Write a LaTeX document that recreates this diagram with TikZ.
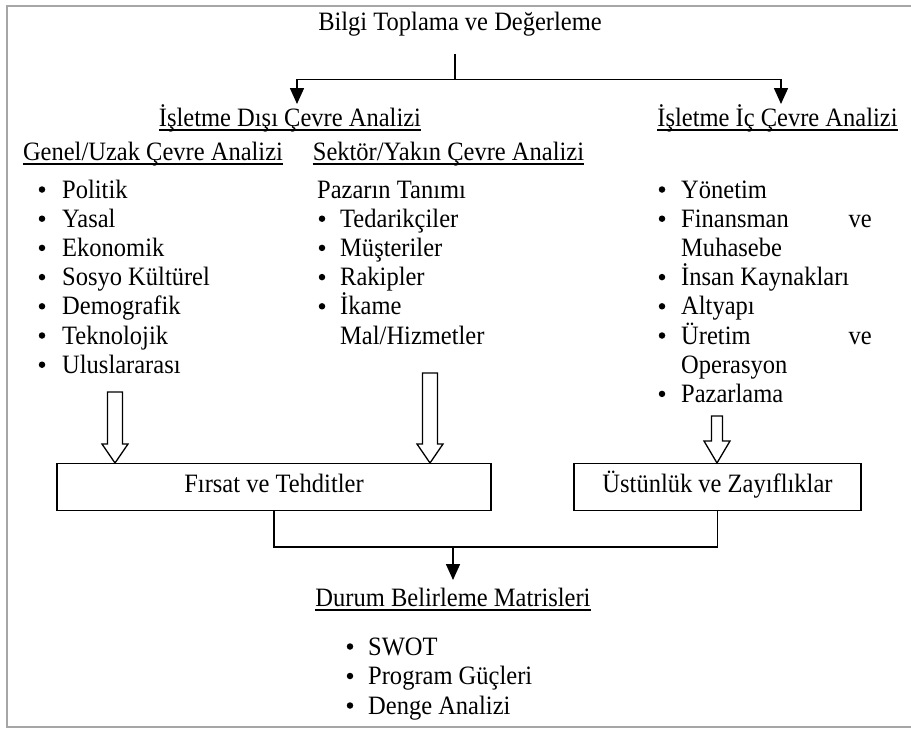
\documentclass[tikz,border=0pt]{standalone}
\usepackage{fontspec}
\setmainfont{Liberation Serif}[FakeStretch=0.925]
\usetikzlibrary{calc,arrows.meta}
\begin{document}
\begin{tikzpicture}[x=1pt,y=-1pt,
  txt/.style={inner sep=0pt, font=\fontsize{26.5}{29}\selectfont},
  itemtxt/.style={txt, anchor=base west},
  bul/.style={circle, fill=black, inner sep=0pt, minimum size=6.5pt, yshift=8.5pt},
  head/.style={txt, anchor=base},
  conn/.style={line width=1.6pt, line cap=rect},
  arr/.style={line width=1.6pt, -{Triangle[length=16pt,width=14pt]}},
  uline/.style={line width=1.4pt},
  hollow/.style={draw, line width=1.3pt, fill=white, line join=miter},
  boxnode/.style={draw, line width=1.3pt, inner sep=0pt, txt, text height=29pt, text depth=18pt},
  frame/.style={draw=black!35, line width=2.2pt}
]
\useasboundingbox (0,0) rectangle (911,729);
\draw[frame] (915,6) -- (7,6) -- (7,727) -- (915,727);

% headings
\node[head] (title) at (460,30) {Bilgi Toplama ve Değerleme};
\node[head] (dis) at (290,126) {İşletme Dışı Çevre Analizi};
\node[head] (ic) at (777.5,126) {İşletme İç Çevre Analizi};
\node[head] (genel) at (153,160) {Genel/Uzak Çevre Analizi};
\node[head] (sektor) at (448.5,160) {Sektör/Yakın Çevre Analizi};
\node[head] (durum) at (453,606) {Durum Belirleme Matrisleri};
\foreach \n in {dis,ic,genel,sektor,durum}
  \draw[uline] ($(\n.base west)+(0,4)$) -- ($(\n.base east)+(0,4)$);

% general environment list
\foreach \t [count=\i from 0] in {Politik,Yasal,Ekonomik,Sosyo Kültürel,Demografik,Teknolojik,Uluslararası}{
  \node[bul] (gb\i) at (42,198+\i*29.2) {};
  \node[itemtxt] (g\i) at (62,198+\i*29.2) {\t};
}
% sector list
\node[itemtxt] (pazar) at (317,198) {Pazarın Tanımı};
\foreach \t [count=\i from 1] in {Tedarikçiler,Müşteriler,Rakipler,İkame}{
  \node[bul] (sb\i) at (322,198+\i*29.2) {};
  \node[itemtxt] (s\i) at (340,198+\i*29.2) {\t};
}
\node[itemtxt] (s5) at (340,198+5*29.2) {Mal/Hizmetler};

% internal list
\foreach \t/\k in {Yönetim/0,Finansman/1,İnsan Kaynakları/3,Altyapı/4,Üretim/5,Pazarlama/7}{
  \node[bul] (ib\k) at (662,198+\k*29.2) {};
  \node[itemtxt] (i\k) at (681,198+\k*29.2) {\t};
}
\node[itemtxt] (i2) at (681,198+2*29.2) {Muhasebe};
\node[itemtxt] (i6) at (681,198+6*29.2) {Operasyon};
\node[txt, anchor=base east] (ve1) at (872,198+1*29.2) {ve};
\node[txt, anchor=base east] (ve2) at (872,198+5*29.2) {ve};

% matrices list
\foreach \t [count=\i from 0] in {SWOT,Program Güçleri,Denge Analizi}{
  \node[bul] (mb\i) at (350,655+\i*29.5) {};
  \node[itemtxt] (m\i) at (368,655+\i*29.5) {\t};
}

% result boxes
\node[boxnode, minimum width=434pt, anchor=north] (firsat) at (274,463) {Fırsat ve Tehditler};
\node[boxnode, minimum width=287pt, anchor=north] (ustun) at (717.5,463) {Üstünlük ve Zayıflıklar};

% top branching
\coordinate (tdown) at (455,55);
\coordinate (tj) at (455,79.5);
\draw[conn] (tdown) -- (tj);
\draw[conn] (297,79.5) -- (781,79.5);
\draw[arr] (297,79.5) -- (297,104);
\draw[arr] (781,79.5) -- (781,104);

% hollow arrows into the boxes
\newcommand\hollowarrow[6]{% x, top, tip, shaft half, head half, head length
  \draw[hollow] (#1-#4,#2) -- (#1+#4,#2) -- (#1+#4,#3-#6) -- (#1+#5,#3-#6)
    -- (#1,#3) -- (#1-#5,#3-#6) -- (#1-#4,#3-#6) -- cycle;}
\hollowarrow{115}{392}{463}{7.5}{13}{19}
\hollowarrow{430}{373}{463}{7.5}{13}{19}
\hollowarrow{717}{416}{463}{5.5}{13}{22}

% joining the boxes
\coordinate (bj) at (453,547);
\draw[conn] (firsat.south) -- (firsat.south |- bj) -- (ustun.south |- bj) -- (ustun.south);
\draw[arr] (bj) -- (453,580);
\end{tikzpicture}
\end{document}
